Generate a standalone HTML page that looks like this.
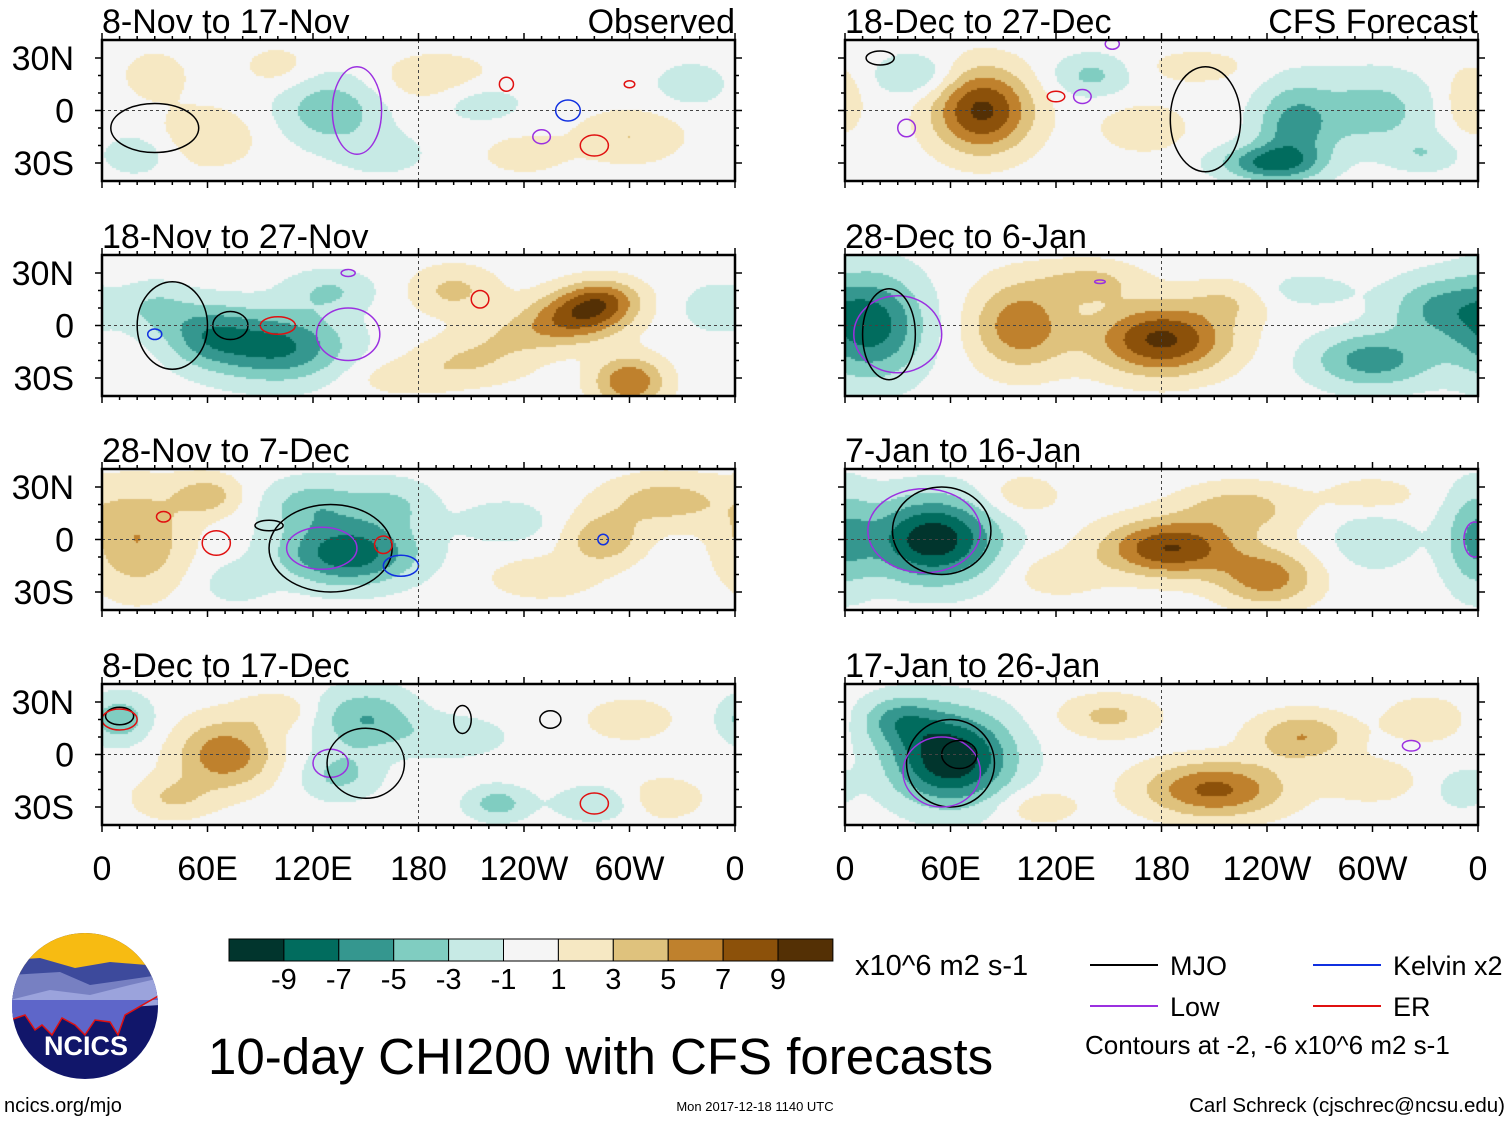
<!DOCTYPE html>
<html><head><meta charset="utf-8">
<style>
body{margin:0;background:#fff;width:1510px;height:1121px;overflow:hidden;font-family:"Liberation Sans",sans-serif;}
svg{position:absolute;left:0;top:0;}
canvas{position:absolute;}
</style></head>
<body>
<canvas id="c0" width="633" height="141" style="left:102px;top:40px"></canvas>
<canvas id="c1" width="633" height="141" style="left:102px;top:255px"></canvas>
<canvas id="c2" width="633" height="141" style="left:102px;top:469px"></canvas>
<canvas id="c3" width="633" height="141" style="left:102px;top:684px"></canvas>
<canvas id="c4" width="633" height="141" style="left:845px;top:40px"></canvas>
<canvas id="c5" width="633" height="141" style="left:845px;top:255px"></canvas>
<canvas id="c6" width="633" height="141" style="left:845px;top:469px"></canvas>
<canvas id="c7" width="633" height="141" style="left:845px;top:684px"></canvas>
<svg id="s" width="1510" height="1121" xmlns="http://www.w3.org/2000/svg">
<g>
<clipPath id="lc"><circle cx="85" cy="1006" r="73"/></clipPath>
<g clip-path="url(#lc)">
<rect x="10" y="930" width="150" height="155" fill="#11166a"/>
<rect x="10" y="930" width="150" height="45" fill="#f7bb12"/>
<path d="M10 960 L40 958 L75 968 L110 962 L160 966 L160 1000 L10 1010Z" fill="#3d4a9c"/>
<path d="M10 975 L60 972 L90 985 L160 975 L160 1000 L10 1000Z" fill="#7780c2"/>
<path d="M10 1000 L50 990 L90 995 L130 985 L160 978 L160 1005 L10 1015Z" fill="#9ba3dc"/>
<path d="M10 1020 L25 1015 L35 1030 L42 1025 L52 1035 L62 1018 L75 1025 L85 1035 L95 1020 L110 1022 L118 1035 L125 1015 L160 995 L160 1000 L10 1000Z" fill="#5e66c9"/>
<path d="M10 1020 L25 1015 L35 1030 L42 1025 L52 1035 L62 1018 L75 1025 L85 1035 L95 1020 L110 1022 L118 1035 L125 1015 L160 995" fill="none" stroke="#e01010" stroke-width="1.5"/>
</g>
<text x="86" y="1055" font-size="27" font-weight="bold" fill="#fff" text-anchor="middle">NCICS</text>
</g>
</svg>
<script>
// ---- data ----
const panelTitles=["8-Nov to 17-Nov","18-Nov to 27-Nov","28-Nov to 7-Dec","8-Dec to 17-Dec","18-Dec to 27-Dec","28-Dec to 6-Jan","7-Jan to 16-Jan","17-Jan to 26-Jan"];
const panelTags=["Observed","","","","CFS Forecast","","",""];
// anomaly centres: [lon, lat, peak value (x10^6 m2 s-1), lon radius, lat radius]
const anomalies=[
 [[130,0,-4.5,30,20],[60,-15,2.5,30,18],[30,20,2,20,15],[190,18,2.5,35,15],[215,5,-2.5,25,12],[300,-15,3,30,15],[335,15,-2.5,20,12],[20,-25,-2.5,20,12],[100,25,2,20,12],[240,-25,2,25,12],[160,-25,-2,25,12]],
 [[100,-12,-7.5,38,20],[60,-5,-5,25,18],[30,10,-3,20,15],[130,20,-3,25,12],[200,20,3.5,25,14],[270,5,7,28,14],[285,15,5.5,22,12],[300,-32,7,20,14],[210,-20,3,35,14],[350,10,-2.5,20,14],[240,-5,2.5,30,12],[170,-30,2,30,10]],
 [[20,0,5,28,30],[140,-8,-8.5,38,18],[120,20,-4,28,15],[165,20,-3,25,15],[285,0,4.5,22,15],[320,22,4,35,15],[60,25,4,20,12],[230,10,-2.5,25,12],[250,-22,2.5,30,12],[75,-25,-2,20,12]],
 [[10,20,-4.5,18,14],[70,0,6.5,28,20],[150,20,-5,28,18],[135,-12,-3.5,22,14],[225,-28,-4,18,10],[280,-28,-3,22,10],[40,-25,3,22,12],[320,-25,2.5,22,12],[200,10,-2.5,30,12],[300,20,2.5,25,12],[100,25,2.5,20,10]],
 [[78,0,9.5,28,24],[255,-10,-5.5,22,25],[240,-30,-6.5,28,10],[40,20,-3.5,22,12],[140,20,-3.5,22,12],[300,0,-4,35,22],[170,-10,2.5,25,14],[355,5,3,15,20],[200,25,2,30,10],[330,-25,-2.5,20,10]],
 [[15,0,-8,30,30],[180,-8,9.5,38,20],[100,0,6.5,28,25],[300,-20,-6,35,16],[335,10,-4.5,28,18],[140,25,3.5,28,12],[260,20,-2,30,10],[220,15,2.5,25,12]],
 [[50,0,-10.5,36,24],[185,-5,9,38,16],[240,-22,6,28,16],[225,18,4,35,14],[358,0,-4.5,18,30],[300,0,-2.5,25,18],[100,25,2.5,22,12],[120,-20,2.5,25,12],[300,25,2.5,25,10]],
 [[60,-2,-11,34,26],[210,-20,7.5,40,16],[260,10,5,28,14],[150,22,3.5,28,12],[330,20,3,22,12],[30,20,-4.5,22,14],[110,-30,2.5,22,10],[300,-15,2.5,25,12],[350,-20,-2,15,12]]
];
// contour outlines: [type, lon, lat, lon radius, lat radius]
const contours=[
 [["mjo",30,-10,25,14],["low",145,0,14,25],["er",230,15,4,4],["kel",265,0,7,6],["er",280,-20,8,6],["low",250,-15,5,4],["er",300,15,3,2]],
 [["mjo",40,0,20,25],["mjo",73,0,10,8],["er",100,0,10,5],["low",140,-5,18,15],["kel",30,-5,4,3],["er",215,15,5,5],["low",140,30,4,2]],
 [["mjo",130,-5,35,25],["low",125,-5,20,12],["kel",170,-15,10,6],["er",160,-3,5,5],["er",65,-2,8,7],["er",35,13,4,3],["mjo",95,8,8,3],["kel",285,0,3,3]],
 [["mjo",10,22,8,5],["er",10,20,10,6],["low",130,-5,10,8],["mjo",150,-5,22,20],["mjo",255,20,6,5],["er",280,-28,8,6],["mjo",205,20,5,8]],
 [["mjo",205,-5,20,30],["mjo",20,30,8,4],["low",35,-10,5,5],["low",135,8,5,4],["er",120,8,5,3],["low",152,38,4,3]],
 [["low",30,-5,25,22],["mjo",25,-5,15,26],["low",145,25,3,1]],
 [["low",45,5,32,24],["mjo",55,5,28,25],["low",358,0,6,10]],
 [["mjo",60,-5,25,25],["low",55,-10,22,20],["mjo",65,0,10,8],["low",322,5,5,3]]
];
const cbColors=["#01352d","#016c5e","#35978f","#80cdc1","#c7eae5","#f5f5f5","#f6e8c3","#dfc27d","#bf812d","#8c510a","#543005"];
const cbLabels=["-9","-7","-5","-3","-1","1","3","5","7","9"];
const lonLabels=["0","60E","120E","180","120W","60W","0"];
const latLabels=["30N","0","30S"];
// ---- scales ----
const PW=633,PH=141;
const xs=lon=>lon*PW/360;
const ys=lat=>PH/2-lat*1.75;
function colorFor(v){const b=[-9,-7,-5,-3,-1,1,3,5,7,9];let i=0;while(i<b.length&&v>=b[i])i++;return cbColors[i];}
anomalies.forEach((blobs,p)=>{
 const ctx=document.getElementById('c'+p).getContext('2d');
 for(let py=0;py<PH;py+=2)for(let px=0;px<PW;px+=2){
  const lon=(px+1)*360/PW, lat=(PH/2-(py+1))/1.75;
  let v=0;
  blobs.forEach(b=>{let d=lon-b[0];if(d>180)d-=360;if(d<-180)d+=360;const q=(d/b[3])**2+((lat-b[1])/b[4])**2;v+=b[2]*Math.exp(-q);});
  ctx.fillStyle=colorFor(v);ctx.fillRect(px,py,2,2);
 }
});
const S=document.getElementById('s');const NS="http://www.w3.org/2000/svg";
function mk(tag,attrs,parent){const e=document.createElementNS(NS,tag);for(const k in attrs)e.setAttribute(k,attrs[k]);(parent||S).appendChild(e);return e;}
function txt(x,y,s,size,anchor,parent){const t=mk('text',{x:x,y:y,'font-size':size,'text-anchor':anchor||'start',fill:'#000'},parent);t.textContent=s;return t;}
const cCol={mjo:"#000",low:"#9b30e0",kel:"#1030e0",er:"#e01010"};
const lefts=[102,845],tops=[40,255,469,684];
for(let p=0;p<8;p++){
 const ox=lefts[Math.floor(p/4)],oy=tops[p%4];
 const g=mk('g',{transform:`translate(${ox},${oy})`});
 
 
 const cg=mk('g',{'clip-path':'url(#pc)'},g);
 contours[p].forEach(c=>{
  const e=mk('ellipse',{cx:xs(c[1]),cy:ys(c[2]),rx:c[3]*PW/360,ry:c[4]*1.75,fill:'none',stroke:cCol[c[0]],'stroke-width':1.5},cg);
  
  
 });
 mk('line',{x1:0,x2:PW,y1:ys(0),y2:ys(0),stroke:'#444','stroke-dasharray':'3,3','stroke-width':1},g);
 mk('line',{x1:xs(180),x2:xs(180),y1:0,y2:PH,stroke:'#444','stroke-dasharray':'3,3','stroke-width':1},g);
 mk('rect',{x:0,y:0,width:PW,height:PH,fill:'none',stroke:'#000','stroke-width':2.5},g);
 for(let l=0;l<=360;l+=10){const L=l%60==0?7:4;mk('line',{x1:xs(l),x2:xs(l),y1:0,y2:-L,stroke:'#000','stroke-width':1.5},g);mk('line',{x1:xs(l),x2:xs(l),y1:PH,y2:PH+L,stroke:'#000','stroke-width':1.5},g);}
 for(let la=-30;la<=30;la+=10){const L=la%30==0?7:4;mk('line',{x1:0,x2:-L,y1:ys(la),y2:ys(la),stroke:'#000','stroke-width':1.5},g);mk('line',{x1:PW,x2:PW+L,y1:ys(la),y2:ys(la),stroke:'#000','stroke-width':1.5},g);}
 const t=txt(0,-7,panelTitles[p],34,'start',g);
 
 
 if(panelTags[p])txt(PW,-7,panelTags[p],34,'end',g);
 if(p<4)[30,0,-30].forEach((la,i)=>txt(-28,ys(la)+12,latLabels[i],34,'end',g));
}
const cp=mk('clipPath',{id:'pc'});mk('rect',{x:0,y:0,width:PW,height:PH},cp);
[0,1].forEach(k=>lonLabels.forEach((s,i)=>{const t=txt(lefts[k]+xs(i*60),880,s,34,'middle');}));
// colorbar
const cb=mk('g',{});


cbColors.forEach((c,i)=>mk('rect',{x:229+i*54.9,y:939,width:54.9,height:22,fill:c,stroke:'#000','stroke-width':1},cb));
cbLabels.forEach((s,i)=>txt(229+(i+1)*54.9,989,s,29,'middle',cb));
txt(855,975,"x10^6 m2 s-1",29);
const tt=txt(208,1074,"10-day CHI200 with CFS forecasts",51);


// legend
const lg=mk('g',{});


[["MJO","#000",1090,965],["Low","#9b30e0",1090,1006],["Kelvin x2","#1030e0",1313,965],["ER","#e01010",1313,1006]].forEach(e=>{
 mk('line',{x1:e[2],x2:e[2]+68,y1:e[3],y2:e[3],stroke:e[1],'stroke-width':2},lg);
 txt(e[2]+80,e[3]+10,e[0],27,'start',lg);
});
txt(1085,1054,"Contours at -2, -6 x10^6 m2 s-1",26,'start',lg);
txt(4,1112,"ncics.org/mjo",20);
txt(755,1111,"Mon 2017-12-18 1140 UTC",13,'middle');
txt(1505,1112,"Carl Schreck (cjschrec@ncsu.edu)",20.5,'end');
</script>
</body></html>
